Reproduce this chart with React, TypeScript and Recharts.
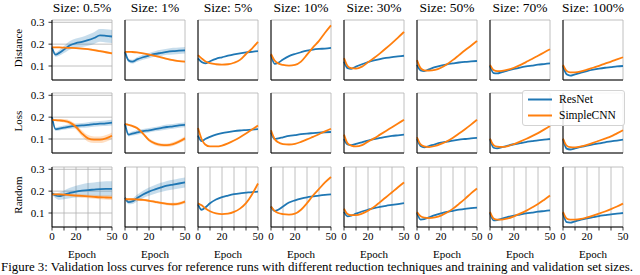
import React from 'react';
import { ComposedChart, Line, Area, XAxis, YAxis, CartesianGrid } from 'recharts';

const epochs = [0, 3, 6, 10, 15, 20, 25, 30, 35, 40, 45, 50];
const sizeLabels = ['0.5%', '1%', '5%', '10%', '30%', '50%', '70%', '100%'];
const rowLabels = ['Distance', 'Loss', 'Random'];
const seriesNames = ['ResNet', 'SimpleCNN'];
const xTicks = [0, 10, 20, 30, 40, 50];
const xTickLabels = [0, 20, 50];
const yTicks = [0.1, 0.2, 0.3];
const caption = 'Figure 3: Validation loss curves for reference runs with different reduction techniques and training and validation set sizes.';

// Distance
const distanceResNet = [
  [0.185, 0.152, 0.16, 0.175, 0.195, 0.205, 0.21, 0.218, 0.228, 0.24, 0.238, 0.235],
  [0.165, 0.125, 0.12, 0.13, 0.14, 0.148, 0.155, 0.16, 0.165, 0.168, 0.17, 0.172],
  [0.135, 0.118, 0.112, 0.122, 0.133, 0.14, 0.147, 0.153, 0.158, 0.162, 0.165, 0.168],
  [0.15, 0.11, 0.115, 0.13, 0.145, 0.155, 0.163, 0.17, 0.175, 0.178, 0.18, 0.183],
  [0.12, 0.09, 0.087, 0.097, 0.108, 0.118, 0.126, 0.132, 0.137, 0.141, 0.144, 0.147],
  [0.105, 0.08, 0.077, 0.085, 0.095, 0.102, 0.108, 0.112, 0.116, 0.119, 0.121, 0.123],
  [0.1, 0.068, 0.066, 0.072, 0.08, 0.087, 0.093, 0.098, 0.102, 0.106, 0.109, 0.112],
  [0.1, 0.062, 0.056, 0.062, 0.07, 0.077, 0.083, 0.088, 0.092, 0.095, 0.098, 0.1],
];
const distanceCNN = [
  [0.185, 0.185, 0.185, 0.184, 0.183, 0.182, 0.18, 0.177, 0.173, 0.168, 0.163, 0.158],
  [0.165, 0.165, 0.164, 0.162, 0.158, 0.152, 0.146, 0.14, 0.133, 0.127, 0.122, 0.12],
  [0.15, 0.135, 0.122, 0.113, 0.108, 0.106, 0.108, 0.115, 0.128, 0.155, 0.18, 0.21],
  [0.155, 0.125, 0.112, 0.105, 0.102, 0.105, 0.12, 0.152, 0.185, 0.215, 0.252, 0.286],
  [0.136, 0.1, 0.09, 0.088, 0.097, 0.117, 0.137, 0.158, 0.181, 0.205, 0.23, 0.256],
  [0.127, 0.09, 0.08, 0.079, 0.082, 0.092, 0.108, 0.128, 0.15, 0.172, 0.193, 0.215],
  [0.105, 0.082, 0.077, 0.078, 0.083, 0.092, 0.104, 0.118, 0.132, 0.147, 0.162, 0.177],
  [0.105, 0.078, 0.071, 0.071, 0.075, 0.083, 0.092, 0.101, 0.111, 0.12, 0.13, 0.14],
];
// Loss
const lossResNet = [
  [0.2, 0.145, 0.148, 0.152, 0.157, 0.16, 0.162, 0.165, 0.168, 0.17, 0.172, 0.175],
  [0.17, 0.12, 0.125, 0.13, 0.136, 0.14, 0.145, 0.15, 0.155, 0.158, 0.162, 0.165],
  [0.115, 0.09, 0.1, 0.11, 0.12, 0.127, 0.132, 0.136, 0.139, 0.141, 0.143, 0.145],
  [0.13, 0.1, 0.103, 0.108, 0.114, 0.118, 0.122, 0.125, 0.127, 0.129, 0.131, 0.132],
  [0.1, 0.075, 0.072, 0.078, 0.085, 0.093, 0.1, 0.105, 0.11, 0.114, 0.117, 0.12],
  [0.1, 0.068, 0.062, 0.068, 0.076, 0.083, 0.088, 0.093, 0.097, 0.1, 0.103, 0.105],
  [0.1, 0.06, 0.057, 0.063, 0.07, 0.076, 0.081, 0.086, 0.09, 0.094, 0.097, 0.1],
  [0.1, 0.056, 0.052, 0.057, 0.064, 0.07, 0.075, 0.08, 0.085, 0.089, 0.093, 0.097],
];
const lossCNN = [
  [0.188, 0.186, 0.185, 0.183, 0.175, 0.155, 0.125, 0.103, 0.097, 0.097, 0.103, 0.115],
  [0.168, 0.165, 0.16, 0.15, 0.125, 0.095, 0.08, 0.073, 0.072, 0.077, 0.088, 0.103],
  [0.15, 0.1, 0.075, 0.066, 0.066, 0.07, 0.08, 0.093, 0.108, 0.125, 0.143, 0.162],
  [0.14, 0.1, 0.085, 0.077, 0.075, 0.078, 0.087, 0.098, 0.11, 0.122, 0.135, 0.147],
  [0.12, 0.08, 0.07, 0.066, 0.072, 0.088, 0.103, 0.12, 0.137, 0.154, 0.171, 0.188],
  [0.108, 0.075, 0.066, 0.063, 0.068, 0.078, 0.09, 0.106, 0.125, 0.145, 0.166, 0.188],
  [0.102, 0.072, 0.065, 0.064, 0.068, 0.077, 0.088, 0.1, 0.113, 0.127, 0.143, 0.16],
  [0.102, 0.07, 0.063, 0.062, 0.066, 0.073, 0.082, 0.092, 0.102, 0.112, 0.126, 0.14],
];
// Random
const randomResNet = [
  [0.19, 0.18, 0.177, 0.183, 0.192, 0.198, 0.202, 0.205, 0.207, 0.209, 0.21, 0.21],
  [0.17, 0.15, 0.153, 0.168, 0.185, 0.198, 0.208, 0.217, 0.225, 0.23, 0.235, 0.24],
  [0.14, 0.115, 0.125, 0.145, 0.162, 0.173, 0.18, 0.186, 0.19, 0.193, 0.196, 0.198],
  [0.13, 0.11, 0.115, 0.13, 0.148, 0.158, 0.166, 0.172, 0.176, 0.18, 0.183, 0.185],
  [0.105, 0.085, 0.088, 0.097, 0.107, 0.115, 0.122, 0.128, 0.133, 0.137, 0.141, 0.145],
  [0.1, 0.07, 0.072, 0.08, 0.09, 0.098, 0.105, 0.11, 0.115, 0.119, 0.122, 0.125],
  [0.1, 0.066, 0.068, 0.074, 0.082, 0.088, 0.093, 0.098, 0.102, 0.106, 0.109, 0.112],
  [0.1, 0.058, 0.056, 0.062, 0.07, 0.076, 0.081, 0.086, 0.09, 0.094, 0.097, 0.1],
];
const randomCNN = [
  [0.185, 0.185, 0.185, 0.184, 0.182, 0.18, 0.178, 0.176, 0.174, 0.172, 0.171, 0.17],
  [0.163, 0.163, 0.163, 0.162, 0.16, 0.156, 0.151, 0.146, 0.142, 0.14, 0.143, 0.152],
  [0.145, 0.135, 0.122, 0.108, 0.098, 0.095, 0.097, 0.105, 0.12, 0.145, 0.185, 0.235],
  [0.13, 0.11, 0.1, 0.095, 0.093, 0.097, 0.115, 0.145, 0.18, 0.21, 0.24, 0.265],
  [0.12, 0.095, 0.09, 0.09, 0.097, 0.11, 0.128, 0.15, 0.172, 0.195, 0.218, 0.24],
  [0.105, 0.085, 0.079, 0.077, 0.08, 0.088, 0.102, 0.12, 0.142, 0.165, 0.19, 0.212],
  [0.105, 0.075, 0.07, 0.07, 0.075, 0.085, 0.097, 0.11, 0.125, 0.141, 0.16, 0.18],
  [0.105, 0.075, 0.07, 0.07, 0.073, 0.08, 0.088, 0.097, 0.107, 0.118, 0.13, 0.143],
];

// Spread (half-width of shaded band) for the smallest sizes (0.5%, 1%)
const distanceResNetBand = [
  [0.004, 0.01, 0.013, 0.016, 0.019, 0.021, 0.023, 0.025, 0.027, 0.029, 0.03, 0.03],
  [0.004, 0.008, 0.009, 0.01, 0.011, 0.012, 0.013, 0.014, 0.014, 0.015, 0.015, 0.015],
];
const distanceCNNBand = [
  [0.003, 0.003, 0.003, 0.003, 0.003, 0.004, 0.004, 0.004, 0.005, 0.005, 0.005, 0.005],
  [0.003, 0.003, 0.003, 0.003, 0.003, 0.003, 0.004, 0.004, 0.004, 0.004, 0.004, 0.004],
];
const lossResNetBand = [
  [0.004, 0.008, 0.009, 0.01, 0.01, 0.011, 0.011, 0.012, 0.012, 0.012, 0.013, 0.013],
  [0.004, 0.008, 0.009, 0.01, 0.01, 0.01, 0.01, 0.011, 0.011, 0.011, 0.011, 0.011],
];
const lossCNNBand = [
  [0.004, 0.005, 0.006, 0.008, 0.01, 0.012, 0.014, 0.015, 0.015, 0.015, 0.015, 0.015],
  [0.003, 0.004, 0.005, 0.006, 0.007, 0.008, 0.008, 0.008, 0.008, 0.009, 0.009, 0.01],
];
const randomResNetBand = [
  [0.006, 0.012, 0.016, 0.02, 0.024, 0.027, 0.03, 0.032, 0.033, 0.034, 0.035, 0.035],
  [0.004, 0.01, 0.012, 0.015, 0.017, 0.019, 0.02, 0.021, 0.022, 0.022, 0.023, 0.023],
];
const randomCNNBand = [
  [0.004, 0.004, 0.005, 0.005, 0.006, 0.007, 0.008, 0.008, 0.009, 0.009, 0.01, 0.01],
  [0.003, 0.003, 0.004, 0.004, 0.005, 0.005, 0.006, 0.006, 0.006, 0.007, 0.007, 0.008],
];

const resnetRows = [distanceResNet, lossResNet, randomResNet];
const cnnRows = [distanceCNN, lossCNN, randomCNN];
const resnetBandRows = [distanceResNetBand, lossResNetBand, randomResNetBand];
const cnnBandRows = [distanceCNNBand, lossCNNBand, randomCNNBand];

const BLUE = '#1f77b4';
const ORANGE = '#ff7f0e';
const FONT = "'Liberation Serif', 'Times New Roman', Times, serif";
const Y_DOMAIN: [number, number] = [0.036, 0.3105];

const COL_X = [52, 125, 198, 271, 344, 417, 490, 563];
const ROW_Y = [20, 93, 167];
const PW = 60;
const PH = 60;
const ML = 35;
const MR = 9;
const MT = 5;
const MB = 22;

function Panel({ r, c }: { r: number; c: number }) {
  const res = resnetRows[r][c];
  const cnn = cnnRows[r][c];
  const rb = resnetBandRows[r][c];
  const cb = cnnBandRows[r][c];
  const data = epochs.map((e, i) => ({
    epoch: e,
    res: res[i],
    cnn: cnn[i],
    resBand: rb ? [res[i] - rb[i], res[i] + rb[i]] : null,
    cnnBand: cb ? [cnn[i] - cb[i], cnn[i] + cb[i]] : null,
  }));
  const showX = r === 2;
  const showY = c === 0;
  const tickStyle = { fontSize: 11, fill: '#000', fontFamily: FONT, style: { fontFamily: FONT } };
  return (
    <div style={{ position: 'absolute', left: COL_X[c] - ML, top: ROW_Y[r] - MT }}>
      <ComposedChart
        width={PW + ML + MR}
        height={PH + MT + MB}
        data={data}
        margin={{ top: MT, right: MR, left: 0, bottom: 0 }}
      >
        <CartesianGrid stroke="#b0b0b0" strokeWidth={0.8} />
        <XAxis
          dataKey="epoch"
          type="number"
          domain={[0, 50]}
          ticks={xTicks}
          interval={0}
          height={MB}
          tickSize={3.5}
          tickMargin={2}
          tick={showX ? tickStyle : false}
          tickFormatter={(v: number) => (xTickLabels.includes(v) ? String(v) : '')}
          axisLine={{ stroke: '#000', strokeWidth: 1 }}
          tickLine={{ stroke: '#000', strokeWidth: 0.8 }}
        />
        <XAxis
          xAxisId="top"
          orientation="top"
          dataKey="epoch"
          type="number"
          domain={[0, 50]}
          height={0}
          tick={false}
          tickLine={false}
          axisLine={{ stroke: '#000', strokeWidth: 1 }}
        />
        <YAxis
          type="number"
          domain={Y_DOMAIN}
          allowDataOverflow
          ticks={yTicks}
          interval={0}
          width={ML}
          tickSize={3.5}
          tickMargin={4}
          tick={showY ? tickStyle : false}
          tickFormatter={(v: number) => v.toFixed(1)}
          axisLine={{ stroke: '#000', strokeWidth: 1 }}
          tickLine={{ stroke: '#000', strokeWidth: 0.8 }}
        />
        <YAxis
          yAxisId="right"
          orientation="right"
          type="number"
          domain={Y_DOMAIN}
          allowDataOverflow
          width={0}
          tick={false}
          tickLine={false}
          axisLine={{ stroke: '#000', strokeWidth: 1 }}
        />
        {rb && (
          <Area
            dataKey="resBand"
            type="monotone"
            stroke="none"
            fill={BLUE}
            fillOpacity={0.25}
            isAnimationActive={false}
            activeDot={false}
          />
        )}
        {cb && (
          <Area
            dataKey="cnnBand"
            type="monotone"
            stroke="none"
            fill={ORANGE}
            fillOpacity={0.25}
            isAnimationActive={false}
            activeDot={false}
          />
        )}
        <Line
          dataKey="res"
          name={seriesNames[0]}
          type="monotone"
          stroke={BLUE}
          strokeWidth={1.8}
          dot={false}
          activeDot={false}
          isAnimationActive={false}
        />
        <Line
          dataKey="cnn"
          name={seriesNames[1]}
          type="monotone"
          stroke={ORANGE}
          strokeWidth={1.8}
          dot={false}
          activeDot={false}
          isAnimationActive={false}
        />
      </ComposedChart>
    </div>
  );
}

function LegendBox() {
  const colors = [BLUE, ORANGE];
  return (
    <div
      style={{
        position: 'absolute',
        left: 522,
        top: 90,
        width: 101,
        height: 34,
        border: '1px solid #d3d3d3',
        borderRadius: 3,
        background: 'rgba(255,255,255,0.85)',
        fontFamily: FONT,
        fontSize: 11.5,
        color: '#000',
      }}
    >
      {seriesNames.map((n, i) => (
        <div key={n} style={{ position: 'absolute', left: 0, top: 1 + i * 16, height: 16, width: 101 }}>
          <svg width={26} height={16} style={{ position: 'absolute', left: 4, top: 0 }}>
            <line x1={1} y1={7.5} x2={25} y2={7.5} stroke={colors[i]} strokeWidth={2} />
          </svg>
          <span style={{ position: 'absolute', left: 36, top: 0, lineHeight: '15px', whiteSpace: 'nowrap' }}>{n}</span>
        </div>
      ))}
    </div>
  );
}

const textStyle = { fontFamily: FONT };

export default function App() {
  const panels: React.ReactNode[] = [];
  for (let r = 0; r < 3; r++) {
    for (let c = 0; c < 8; c++) {
      panels.push(<Panel key={`${r}-${c}`} r={r} c={c} />);
    }
  }
  return (
    <div style={{ position: 'absolute', left: 0, top: 0, width: 640, height: 275, overflow: 'hidden', background: '#fff', fontFamily: FONT }}>
      {panels}
      <svg width={640} height={275} style={{ position: 'absolute', left: 0, top: 0, pointerEvents: 'none' }}>
        {sizeLabels.map((s, c) => (
          <text key={s} x={COL_X[c] + PW / 2} y={12} textAnchor="middle" style={textStyle} fontSize={13.5} fill="#000">
            {`Size: ${s}`}
          </text>
        ))}
        {rowLabels.map((l, r) => (
          <text
            key={l}
            x={0}
            y={0}
            transform={`translate(22, ${ROW_Y[r] + 28}) rotate(-90)`}
            textAnchor="middle"
            style={textStyle}
            fontSize={11}
            fill="#000"
          >
            {l}
          </text>
        ))}
        {COL_X.map((x, c) => (
          <text key={c} x={x + PW / 2} y={258} textAnchor="middle" style={textStyle} fontSize={11} fill="#000">
            Epoch
          </text>
        ))}
        <text x={1} y={271} style={textStyle} fontSize={12} fill="#000" textLength={632} lengthAdjust="spacingAndGlyphs">
          {caption}
        </text>
      </svg>
      <LegendBox />
    </div>
  );
}
